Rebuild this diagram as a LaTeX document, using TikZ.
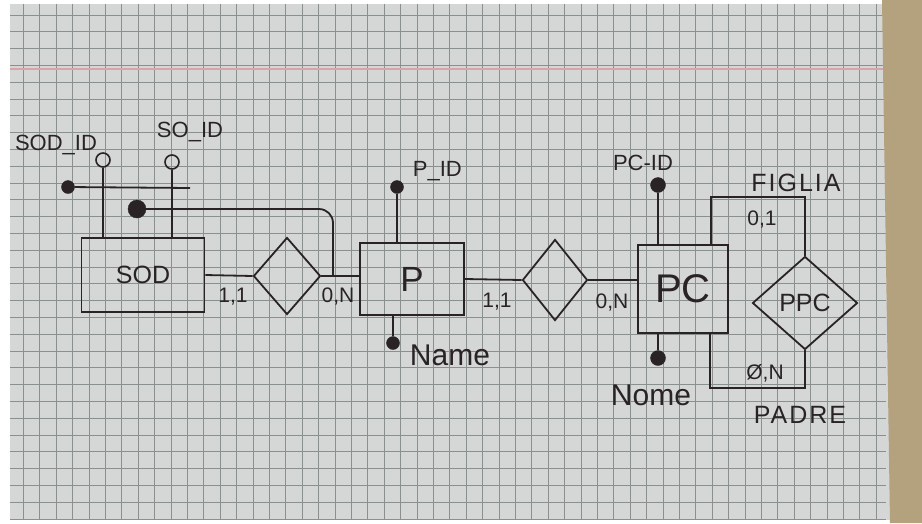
\documentclass[tikz,border=0pt]{standalone}
\usepackage{fontspec}
\setmainfont{Liberation Sans}
\usepackage{xcolor}
\definecolor{penink}{HTML}{2A2326}
\definecolor{paper}{HTML}{D4D7D6}
\definecolor{gridgray}{HTML}{8A9090}
\definecolor{marginred}{HTML}{D8A4A7}
\definecolor{desk}{HTML}{B4A17E}
\usetikzlibrary{shapes.geometric,positioning,calc}

\begin{document}
\begin{tikzpicture}[
  x=1pt,y=-1pt,
  font=\fontsize{22}{24}\selectfont,
  node distance=6pt and 8pt,
  entity/.style={rectangle,draw=penink,line width=1.8pt,inner sep=0pt,text=penink},
  rel/.style={diamond,draw=penink,line width=1.8pt,inner sep=0pt,text=penink},
  keydot/.style={circle,fill=penink,draw=penink,inner sep=0pt,minimum size=13pt},
  opendot/.style={circle,draw=penink,line width=1.6pt,inner sep=0pt,minimum size=14pt},
  lbl/.style={text=penink,inner sep=1pt},
  wide/.style={lbl,font=\fontsize{25}{26}\selectfont\addfontfeature{LetterSpace=8}},
  card/.style={lbl,font=\fontsize{21}{22}\selectfont},
  link/.style={draw=penink,line width=1.8pt},
  gridline/.style={draw=gridgray,line width=1pt}
]
\useasboundingbox (0,0) rectangle (922,523);
\fill[white] (0,0) rectangle (922,523);
\fill[paper] (10,4) rectangle (890,520);
\foreach \i in {1,...,53} \draw[gridline] ({7+16.4*\i},4) -- ({7+16.4*\i},520);
\foreach \i in {0,...,30} \draw[gridline] (10,{15+16.8*\i}) -- (886,{15+16.8*\i});
\draw[draw=marginred,line width=1.2pt] (10,69) -- (884,69);
\fill[desk] (882,0) -- (922,0) -- (922,523) -- (890,523) -- cycle;

\node[entity,minimum width=123pt,minimum height=74pt,font=\fontsize{25}{25}\selectfont] (sod) at (143,275) {SOD};
\node[rel,minimum width=67pt,minimum height=77pt] (r1) at (287,276) {};
\node[entity,minimum width=104pt,minimum height=72pt,font=\fontsize{35}{35}\selectfont] (p) at (412,279) {P};
\node[rel,minimum width=65pt,minimum height=81pt] (r2) at (555,280) {};
\node[entity,minimum width=90pt,minimum height=88pt,font=\fontsize{40}{40}\selectfont] (pc) at (683,289) {PC};
\node[rel,minimum width=105pt,minimum height=93pt,font=\fontsize{25}{25}\selectfont] (ppc) at (805,303) {PPC};

\node[opendot] (sodid) at (103,160) {};
\node[opendot] (soid) at (172,162) {};
\node[keydot] (sodkey) at (68,187) {};
\node[keydot,minimum size=18pt] (sodext) at (137,209) {};
\node[keydot] (pid) at (397,187) {};
\node[keydot] (pname) at (393,343) {};
\node[keydot,minimum size=15pt] (pcid) at (658,185) {};
\node[keydot,minimum size=15pt] (pcnome) at (658,358) {};

\coordinate (sodbar) at (190,188);
\coordinate (j1) at (333,276);
\coordinate (figtop) at (711,197);
\coordinate (padbot) at (710,388);

\node[lbl] (sodidlbl) at (56,145) {SOD\_ID};
\node[lbl] (soidlbl) at (190,132) {SO\_ID};
\node[lbl,above right=0pt and 10pt of pid] (pidlbl) {P\_ID};
\node[lbl] (pcidlbl) at (643,163) {PC-ID};
\node[wide] (figlia) at (796,183) {FIGLIA};
\node[wide] (padre) at (800,415) {PADRE};
\node[lbl,font=\fontsize{30}{30}\selectfont] (pnamelbl) at (450,355) {Name};
\node[lbl,font=\fontsize{30}{30}\selectfont] (pcnomelbl) at (651,395) {Nome};

\node[card] (c1) at (233,297) {1,1};
\node[card] (c2) at (338,297) {0,N};
\node[card] (c3) at (497,302) {1,1};
\node[card] (c4) at (612,303) {0,N};
\node[card] (c5) at (762,220) {0,1};
\node[card] (c6) at (765,373) {Ø,N};

\draw[link] (sodid) -- (sodid |- sod.north);
\draw[link] (soid) -- (soid |- sod.north);
\draw[link] (sodkey) -- (sodbar);
\draw[link,rounded corners=14pt] (sodext) -- (sodext -| j1) -- (j1);
\draw[link] (sod.east) -- (r1.west);
\draw[link] (r1.east) -- (r1.east -| p.west);
\draw[link] (p.east) -- (r2.west);
\draw[link] (r2.east) -- (r2.east -| pc.west);
\draw[link] (pid) -- (pid |- p.north);
\draw[link] (pname) -- (pname |- p.south);
\draw[link] (pcid) -- (pcid |- pc.north);
\draw[link] (pcnome) -- (pcnome |- pc.south);
\draw[link] (pc.north -| figtop) -- (figtop) -- (figtop -| ppc.north) -- (ppc.north);
\draw[link] (pc.south -| padbot) -- (padbot) -- (padbot -| ppc.south) -- (ppc.south);
\end{tikzpicture}
\end{document}
